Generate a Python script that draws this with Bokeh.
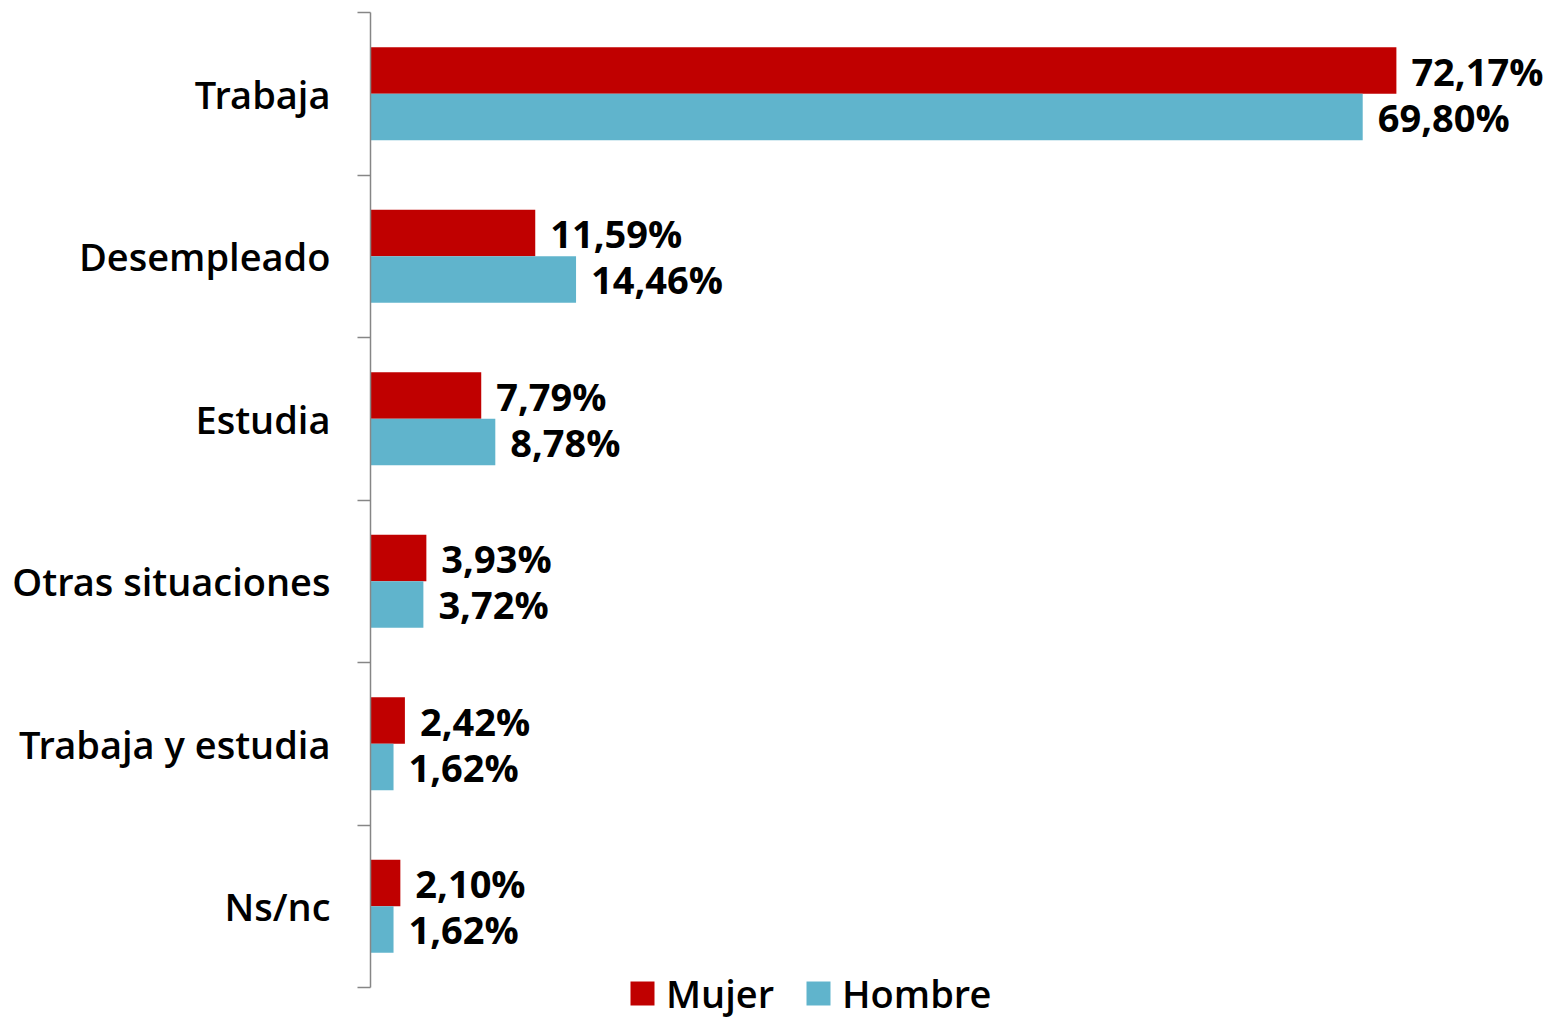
from bokeh.plotting import figure
from bokeh.models import (Range1d, LinearAxis, FixedTicker,
                          Legend, LegendItem, ColumnDataSource)
from bokeh.transform import dodge
from bokeh.core.properties import value
from bokeh.embed import file_html
from bokeh.resources import INLINE

categories = ["Trabaja", "Desempleado", "Estudia", "Otras situaciones", "Trabaja y estudia", "Ns/nc"]
mujer = [72.17, 11.59, 7.79, 3.93, 2.42, 2.10]
hombre = [69.80, 14.46, 8.78, 3.72, 1.62, 1.62]
series_names = ["Mujer", "Hombre"]

def fmt(v):
    return f"{v:.2f}%".replace(".", ",")

n = len(categories)
# category i (top to bottom) sits at the centre of band [n-1-i, n-i]
pos = [n - 0.5 - i for i in range(n)]

src = ColumnDataSource(dict(
    cat=categories, pos=pos, mujer=mujer, hombre=hombre,
    mujer_lbl=[fmt(v) for v in mujer], hombre_lbl=[fmt(v) for v in hombre],
))

FONT = "Open Sans"
LBL_FONT = "Open Sans SemiBold"
RED = "#C00000"
BLUE = "#60B4CC"
AXIS = "#868686"

W, H = 1549, 1019
LEFT, TOP = 370, 12
band_px = 162.5
below = (H - TOP - n * band_px) / band_px  # room under the axis for the legend

p = figure(width=W, height=H, output_backend="svg", toolbar_location=None,
           y_range=Range1d(-below, n), x_range=Range1d(0, (W - LEFT) / 14.215),
           x_axis_location=None, y_axis_location=None,
           min_border_left=LEFT, min_border_right=0, min_border_top=TOP, min_border_bottom=0,
           outline_line_color=None)
p.xgrid.visible = False
p.ygrid.visible = False
p.background_fill_color = "white"
p.border_fill_color = "white"

# axis line with ticks at the category boundaries
tick_axis = LinearAxis(ticker=FixedTicker(ticks=list(range(n + 1))), bounds=(0, n),
                       major_label_overrides={i: "" for i in range(n + 1)},
                       major_label_text_font_size="1px", major_label_standoff=0,
                       major_tick_out=13, major_tick_in=0, minor_tick_line_color=None,
                       axis_line_color=AXIS, major_tick_line_color=AXIS,
                       axis_line_width=1.5, major_tick_line_width=1.5)
p.add_layout(tick_axis, "left")

# category labels at band centres
cat_axis = LinearAxis(ticker=FixedTicker(ticks=pos),
                      major_label_overrides={pv: c for pv, c in zip(pos, categories)},
                      axis_line_color=None, major_tick_line_color=None, minor_tick_line_color=None,
                      major_label_text_font=LBL_FONT, major_label_text_font_size="38px",
                      major_label_text_color="#000000", major_label_standoff=21)
p.add_layout(cat_axis, "left")

bh = 0.286
r1 = p.hbar(y=dodge("pos", bh / 2), right="mujer", left=0, height=bh,
            source=src, color=RED, line_color=None)
r2 = p.hbar(y=dodge("pos", -bh / 2), right="hombre", left=0, height=bh,
            source=src, color=BLUE, line_color=None)

p.text(x="mujer", y=dodge("pos", bh / 2), text="mujer_lbl", source=src,
       x_offset=15, y_offset=0, text_baseline="middle", text_font=value(FONT), text_font_style="bold",
       text_font_size="38px", text_color="#000000")
p.text(x="hombre", y=dodge("pos", -bh / 2), text="hombre_lbl", source=src,
       x_offset=15, y_offset=0, text_baseline="middle", text_font=value(FONT), text_font_style="bold",
       text_font_size="38px", text_color="#000000")

legend = Legend(items=[LegendItem(label=series_names[0], renderers=[r1]),
                       LegendItem(label=series_names[1], renderers=[r2])],
                orientation="horizontal", location=(257, 0),
                border_line_color=None, background_fill_alpha=0, padding=0, margin=0,
                glyph_width=30, glyph_height=30, label_standoff=9, spacing=29,
                label_text_font=LBL_FONT, label_text_font_size="38px", label_text_color="#000000")
p.add_layout(legend, "center")

open("out.html", "w").write(file_html(p, INLINE))
